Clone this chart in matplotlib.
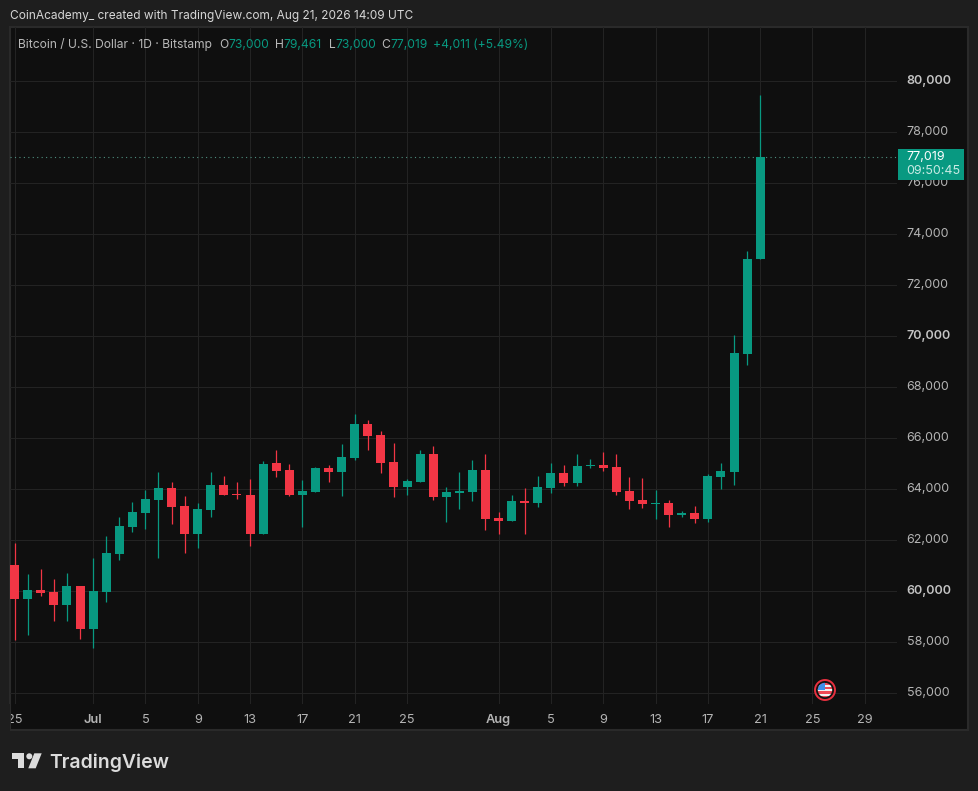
import matplotlib
matplotlib.use("Agg")
from matplotlib import pyplot as plt
from matplotlib.patches import Rectangle, Circle, Polygon

plt.rcParams["font.family"] = ["Inter", "DejaVu Sans"]

# daily candles, Jun 25 - Aug 21
opens = [60993, 59660, 60013, 59935, 59425, 60170, 58484, 59935, 61425, 62483,
         63032, 63542, 64012, 63307, 62209, 63150, 64130, 63777, 63738, 62209,
         64993, 64718, 63738, 63856, 64797, 64640, 65189, 66522, 66091, 65032,
         64052, 64248, 65346, 63660, 63817, 63856, 64719, 62837, 62719, 63503,
         63425, 64013, 64601, 64209, 64876, 64915, 64836, 63895, 63543, 63386,
         63425, 62954, 63033, 62798, 64444, 64640, 69267, 73000]
highs = [61856, 60640, 60836, 60444, 60680, 60170, 61268, 62130, 62875, 63464,
         63934, 64640, 64248, 63699, 63424, 64640, 64483, 64248, 64365, 65071,
         65502, 64953, 64326, 64836, 64915, 65738, 66915, 66679, 66248, 65777,
         64366, 65503, 65660, 64052, 64640, 65111, 65346, 63072, 63739, 64013,
         64484, 64993, 64915, 65346, 65150, 65425, 65346, 64444, 64405, 63935,
         63543, 63111, 63307, 64562, 64993, 70012, 73345, 79461]
lows = [58053, 58249, 59778, 58798, 58798, 58092, 57739, 59543, 61189, 62287,
        62405, 61268, 62601, 61464, 61660, 62875, 63738, 63581, 61738, 62209,
        64444, 63699, 62483, 63856, 64248, 63699, 65111, 65503, 64601, 63660,
        63739, 64248, 63543, 62680, 63190, 63503, 62366, 62209, 62719, 62209,
        63268, 63817, 64091, 64091, 64797, 64680, 63739, 63190, 63229, 62798,
        62484, 62876, 62641, 62680, 63974, 64131, 68836, 73000]
closes = [59660, 60013, 59895, 59425, 60170, 58484, 59974, 61464, 62522, 63071,
          63581, 64012, 63268, 62209, 63189, 64130, 63738, 63738, 62209, 64953,
          64679, 63738, 63895, 64797, 64640, 65229, 66522, 66052, 64993, 64052,
          64288, 65346, 63660, 63856, 63895, 64719, 62798, 62719, 63503, 63425,
          64052, 64601, 64209, 64876, 64915, 64797, 63856, 63503, 63386, 63425,
          62954, 63033, 62798, 64484, 64680, 69306, 73000, 77019]

day_ticks = [0, 6, 10, 14, 18, 22, 26, 30, 37, 41, 45, 49, 53, 57, 61, 65]
day_labels = ["25", "Jul", "5", "9", "13", "17", "21", "25",
              "Aug", "5", "9", "13", "17", "21", "25", "29"]
price_ticks = list(range(56000, 82000, 2000))

GREEN = "#089981"
RED = "#F23645"
BG = "#1e1e1e"
PANE = "#0f0f0f"
GRID = "#232323"
TXT = "#b4b4b4"

fig = plt.figure(figsize=(9.79, 7.91), dpi=100, facecolor=BG)


def px_axes(x0, y0, x1, y1):
    return fig.add_axes([x0 / 979, 1 - y1 / 791, (x1 - x0) / 979, (y1 - y0) / 791])


# pane behind everything
back = px_axes(0, 0, 979, 791)
back.set_xlim(0, 979)
back.set_ylim(791, 0)
back.axis("off")
back.add_patch(Rectangle((10, 27), 958, 703, fc=PANE, ec="#2a2a2a", lw=1.5))

ax = px_axes(10, 27, 897, 704)
ax.patch.set_alpha(0)
ax.set_xlim((10 - 14.6) / 13.08, (897 - 14.6) / 13.08)
ax.set_ylim(60000 + (590.8 - 704) * 2000 / 51, 60000 + (590.8 - 27) * 2000 / 51)
for s in ax.spines.values():
    s.set_visible(False)

ax.set_xticks(day_ticks)
ax.set_xticklabels(day_labels)
ax.set_yticks(price_ticks)
ax.set_yticklabels([f"{p:,}" for p in price_ticks])
ax.yaxis.tick_right()
ax.tick_params(axis="x", length=0, pad=7, labelsize=9.2, labelcolor=TXT)
ax.tick_params(axis="y", length=0, pad=7, labelsize=9.0, labelcolor=TXT)
ax.grid(color=GRID, lw=0.75)
ax.set_axisbelow(True)
for lab in ax.get_xticklabels():
    if lab.get_text() in ("Jul", "Aug"):
        lab.set_fontweight("semibold")
for lab, p in zip(ax.get_yticklabels(), price_ticks):
    if p % 10000 == 0:
        lab.set_fontweight("semibold")
        lab.set_color("#c4c4c4")
    lab.set_verticalalignment("center")

for i in range(len(opens)):
    c = GREEN if closes[i] >= opens[i] else RED
    ax.vlines(i, lows[i], highs[i], color=c, lw=0.9, zorder=3)
    ax.bar(i, max(abs(closes[i] - opens[i]), 60), bottom=min(opens[i], closes[i]),
           width=9 / 13.08, color=c, lw=0, zorder=4)

ax.axhline(closes[-1], color="#4f8f80", lw=0.8, ls=(0, (1, 3)), zorder=2)

# chrome drawn in pixel coordinates
top = px_axes(0, 0, 979, 791)
top.patch.set_alpha(0)
top.set_xlim(0, 979)
top.set_ylim(791, 0)
top.axis("off")

top.add_patch(Rectangle((0, 704), 10, 30, fc=BG, ec="none"))
top.add_patch(Rectangle((10, 704), 1.2, 26, fc="#2a2a2a", ec="none"))

top.text(10, 15.5, "CoinAcademy_ created with TradingView.com, Aug 21, 2026 14:09 UTC",
         color="#d6d6d6", fontsize=8.55, va="center")

legend_parts = [
    (18, "Bitcoin / U.S. Dollar · 1D · Bitstamp", "#b8b8b8"),
    (219, "O", "#b8b8b8"), (228, "73,000", GREEN),
    (275, "H", "#b8b8b8"), (283, "79,461", GREEN),
    (329, "L", "#b8b8b8"), (335, "73,000", GREEN),
    (381.5, "C", "#b8b8b8"), (390, "77,019", GREEN),
    (433, "+4,011 (+5.49%)", GREEN),
]
for x, s, c in legend_parts:
    top.text(x, 44.5, s, color=c, fontsize=8.7, va="center")

# last price tag
top.add_patch(Rectangle((898, 149), 66, 31, fc=GREEN, ec="none"))
top.text(906.5, 157.5, "77,019", color="white", fontsize=9.0, va="center")
top.text(906.5, 171, "09:50:45", color="#c8ebe4", fontsize=9.0, va="center")

# flag marker
flag = Circle((825, 690), 7.2, transform=top.transData)
top.add_patch(Circle((825, 690), 10, fc="#131313", ec="#e8303f", lw=1.4))
for k, yy in enumerate([682.5, 684.7, 686.9, 689.1, 691.3, 693.5, 695.7]):
    st = Rectangle((817, yy), 16, 2.2, fc="#ef4a55" if k % 2 == 0 else "#f2f2f2", ec="none")
    top.add_patch(st)
    st.set_clip_path(flag)
canton = Rectangle((817, 682), 8.5, 8, fc="#3f8fe8", ec="none")
top.add_patch(canton)
canton.set_clip_path(flag)

# logo
logo = "#dcdcdc"
top.add_patch(Polygon([(12, 753.3), (24.3, 753.3), (24.3, 768.3), (18, 768.3), (18, 759.3), (12, 759.3)],
                      fc=logo, ec="none"))
top.add_patch(Circle((29.3, 756.3), 3, fc=logo, ec="none"))
top.add_patch(Polygon([(34.3, 753.3), (41.7, 753.3), (35.7, 768.3), (28.3, 768.3)], fc=logo, ec="none"))
top.text(49.5, 768.2, "TradingView", color=logo, fontsize=14.0, fontweight="semibold", va="baseline")

fig.savefig("out.png", dpi=100, facecolor=BG)
